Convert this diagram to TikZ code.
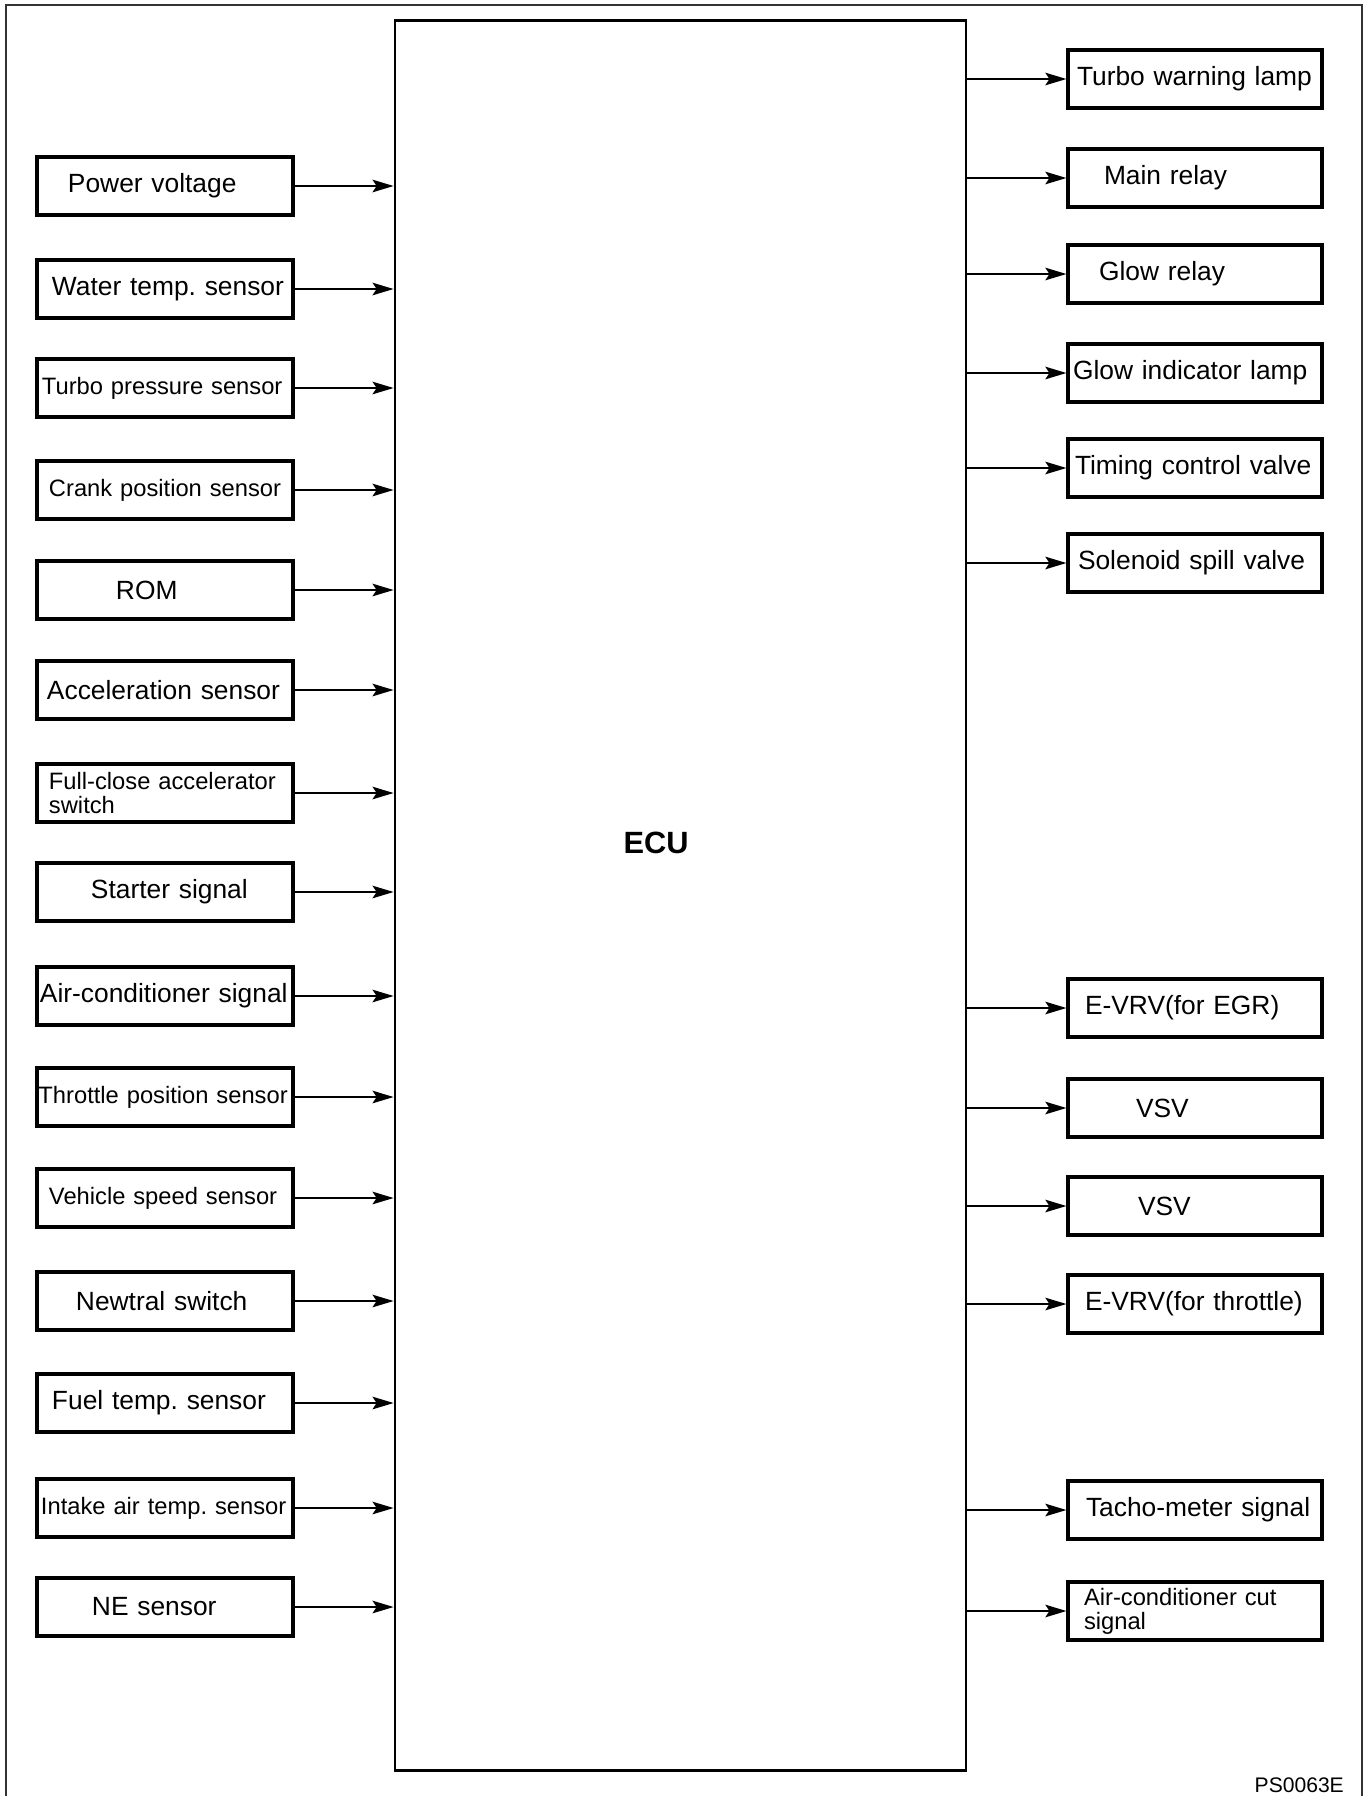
\documentclass[tikz,border=0pt]{standalone}
\usepackage{fontspec}
\setmainfont{Liberation Sans}
\usetikzlibrary{arrows.meta,positioning}

\begin{document}
\begin{tikzpicture}[
    x=0.2mm, y=-0.2mm,
    >={Stealth[length=4.2mm, width=2.5mm, inset=0.8mm]},
    inbox/.style={draw, line width=1.8pt, text width=51.2mm, minimum height=11.6mm, inner xsep=0pt, inner ysep=0pt, align=left, font=\fontsize{15}{15}\selectfont},
    outbox/.style={inbox, text width=50.8mm},
    smalltxt/.style={font=\fontsize{13.5}{13.7}\selectfont},
    ecubox/.style={draw, line width=1.6pt, minimum width=114.2mm, minimum height=350mm, inner sep=0pt},
    sig/.style={->, line width=1.1pt}
]
\useasboundingbox (0,0) rectangle (1366,1796);

% outer frame, open at the bottom
\draw[line width=1.1pt, black!80] (6,1796) -- (6,5) -- (1362,5) -- (1362,1796);

\node[ecubox] (ecu) at (680.5,895.5) {};
\node[font=\bfseries\fontsize{17.5}{17.5}\selectfont] (ecutxt) at (656,843) {ECU};

% inputs
\node[inbox] (pwr) at (165,186) {\hspace*{6.2mm}Power voltage};
\node[inbox] (wtemp) at (165,289) {\hspace*{3mm}Water temp.\ sensor};
\node[inbox, smalltxt] (tpress) at (165,388) {\hspace*{1mm}Turbo pressure sensor};
\node[inbox, smalltxt] (crank) at (165,490) {\hspace*{2.4mm}Crank position sensor};
\node[inbox] (rom) at (165,590) {\hspace*{15.8mm}ROM};
\node[inbox] (accel) at (165,690) {\hspace*{2mm}Acceleration sensor};
\node[inbox, smalltxt] (fcsw) at (165,793) {\hspace*{2.4mm}Full-close accelerator\\\hspace*{2.4mm}switch};
\node[inbox] (start) at (165,892) {\hspace*{10.8mm}Starter signal};
\node[inbox] (acsig) at (165,996) {\hspace*{0.6mm}Air-conditioner signal};
\node[inbox, smalltxt] (tps) at (165,1097) {\hspace*{0.3mm}Throttle position sensor};
\node[inbox, smalltxt] (vss) at (165,1198) {\hspace*{2.4mm}Vehicle speed sensor};
\node[inbox] (ntsw) at (165,1301) {\hspace*{7.8mm}Newtral switch};
\node[inbox] (ftemp) at (165,1403) {\hspace*{3mm}Fuel temp.\ sensor};
\node[inbox, smalltxt] (iat) at (165,1508) {\hspace*{0.8mm}Intake air temp.\ sensor};
\node[inbox] (ne) at (165,1607) {\hspace*{11mm}NE sensor};

\draw[sig] (pwr) -- (pwr -| ecu.west);
\draw[sig] (wtemp) -- (wtemp -| ecu.west);
\draw[sig] (tpress) -- (tpress -| ecu.west);
\draw[sig] (crank) -- (crank -| ecu.west);
\draw[sig] (rom) -- (rom -| ecu.west);
\draw[sig] (accel) -- (accel -| ecu.west);
\draw[sig] (fcsw) -- (fcsw -| ecu.west);
\draw[sig] (start) -- (start -| ecu.west);
\draw[sig] (acsig) -- (acsig -| ecu.west);
\draw[sig] (tps) -- (tps -| ecu.west);
\draw[sig] (vss) -- (vss -| ecu.west);
\draw[sig] (ntsw) -- (ntsw -| ecu.west);
\draw[sig] (ftemp) -- (ftemp -| ecu.west);
\draw[sig] (iat) -- (iat -| ecu.west);
\draw[sig] (ne) -- (ne -| ecu.west);

% outputs
\node[outbox] (twl) at (1195,79) {\hspace*{1.8mm}Turbo warning lamp};
\node[outbox] (mainr) at (1195,178) {\hspace*{7.2mm}Main relay};
\node[outbox] (glowr) at (1195,274) {\hspace*{6.2mm}Glow relay};
\node[outbox] (glowl) at (1195,373) {\hspace*{1mm}Glow indicator lamp};
\node[outbox] (tcv) at (1195,468) {\hspace*{1.4mm}Timing control valve};
\node[outbox] (spv) at (1195,563) {\hspace*{2mm}Solenoid spill valve};
\node[outbox] (egr) at (1195,1008) {\hspace*{3.4mm}E-VRV(for EGR)};
\node[outbox] (vsva) at (1195,1108) {\hspace*{13.6mm}VSV};
\node[outbox] (vsvb) at (1195,1206) {\hspace*{14mm}VSV};
\node[outbox] (thr) at (1195,1304) {\hspace*{3.4mm}E-VRV(for throttle)};
\node[outbox] (tacho) at (1195,1510) {\hspace*{3.6mm}Tacho-meter signal};
\node[outbox, smalltxt] (accut) at (1195,1611) {\hspace*{3.2mm}Air-conditioner cut\\\hspace*{3.2mm}signal};

\draw[sig] (twl -| ecu.east) -- (twl);
\draw[sig] (mainr -| ecu.east) -- (mainr);
\draw[sig] (glowr -| ecu.east) -- (glowr);
\draw[sig] (glowl -| ecu.east) -- (glowl);
\draw[sig] (tcv -| ecu.east) -- (tcv);
\draw[sig] (spv -| ecu.east) -- (spv);
\draw[sig] (egr -| ecu.east) -- (egr);
\draw[sig] (vsva -| ecu.east) -- (vsva);
\draw[sig] (vsvb -| ecu.east) -- (vsvb);
\draw[sig] (thr -| ecu.east) -- (thr);
\draw[sig] (tacho -| ecu.east) -- (tacho);
\draw[sig] (accut -| ecu.east) -- (accut);

\node[anchor=east, font=\fontsize{12}{12}\selectfont] (code) at (1350,1785) {PS0063E};

\end{tikzpicture}
\end{document}
